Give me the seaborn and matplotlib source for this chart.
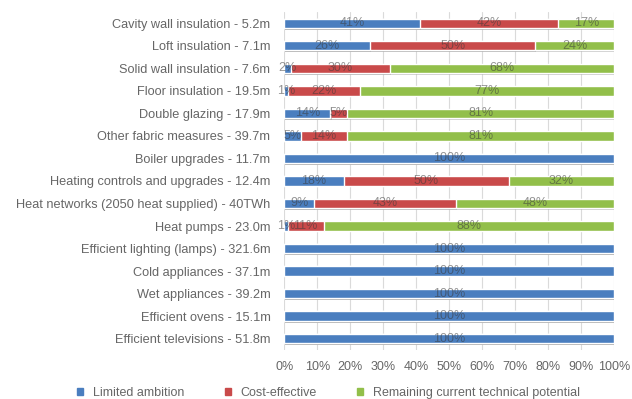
import numpy as np
import pandas as pd
import matplotlib
matplotlib.use("Agg")
import matplotlib.pyplot as plt
import matplotlib.patheffects as pe
import seaborn as sns

# data
measures = [
    "Cavity wall insulation - 5.2m",
    "Loft insulation - 7.1m",
    "Solid wall insulation - 7.6m",
    "Floor insulation - 19.5m",
    "Double glazing - 17.9m",
    "Other fabric measures - 39.7m",
    "Boiler upgrades - 11.7m",
    "Heating controls and upgrades - 12.4m",
    "Heat networks (2050 heat supplied) - 40TWh",
    "Heat pumps - 23.0m",
    "Efficient lighting (lamps) - 321.6m",
    "Cold appliances - 37.1m",
    "Wet appliances - 39.2m",
    "Efficient ovens - 15.1m",
    "Efficient televisions - 51.8m",
]
limited = [41, 26, 2, 1, 14, 5, 100, 18, 9, 1, 100, 100, 100, 100, 100]
cost_eff = [42, 50, 30, 22, 5, 14, 0, 50, 43, 11, 0, 0, 0, 0, 0]
remaining = [17, 24, 68, 77, 81, 81, 0, 32, 48, 88, 0, 0, 0, 0, 0]

series_names = ["Limited ambition", "Cost-effective", "Remaining current technical potential"]
colors = ["#4A7EBF", "#C94A4A", "#92BF4A"]

df = pd.DataFrame({
    "measure": measures,
    "limited": limited,
    "cost": cost_eff,
    "remaining": remaining,
})
df["c1"] = df["limited"] / 100
df["c2"] = (df["limited"] + df["cost"]) / 100
df["c3"] = (df["limited"] + df["cost"] + df["remaining"]) / 100

sns.set_theme(style="white")
plt.rcParams["font.family"] = ["Liberation Sans", "DejaVu Sans"]

fig = plt.figure(figsize=(6.32, 3.99), dpi=100)
ax = fig.add_axes([0.4498, 0.123, 0.5222, 0.847])

shadow = [pe.SimplePatchShadow(offset=(0.8, -1.2), shadow_rgbFace="#9a9a9a", alpha=0.5), pe.Normal()]

# stacked bars drawn as overlapping cumulative totals
for col, c in zip(["c3", "c2", "c1"], colors[::-1]):
    sns.barplot(data=df, x=col, y="measure", color=c, width=0.42,
                orient="h", saturation=1, ax=ax, zorder=3)

for p in ax.patches:
    if p.get_width() > 0:
        p.set_path_effects(shadow)

# value labels
vals = np.array([limited, cost_eff, remaining]) / 100
starts = np.vstack([np.zeros(len(measures)), vals[0], vals[0] + vals[1]])
for i in range(len(measures)):
    for k in range(3):
        if vals[k, i] > 0:
            ax.text(starts[k, i] + vals[k, i] / 2, i, f"{round(vals[k, i]*100)}%",
                    ha="center", va="center", fontsize=9, color="#3a3a3a",
                    alpha=0.55, zorder=5)

ax.set_xlim(0, 1)
ax.set_ylim(len(measures) - 0.5, -0.5)
ax.set_xticks(np.arange(0, 1.01, 0.1))
ax.set_xticklabels([f"{int(t)}%" for t in range(0, 101, 10)])
ax.xaxis.grid(True, color="#DADADA", lw=0.8, zorder=0)
ax.yaxis.grid(False)
ax.set_axisbelow(True)
ax.set_xlabel("")
ax.set_ylabel("")
for s in ax.spines.values():
    s.set_visible(False)
ax.tick_params(axis="y", length=0, pad=10, labelsize=9.2, labelcolor="#666666")
ax.tick_params(axis="x", length=0, pad=8, labelsize=9, labelcolor="#666666")

handles = [plt.Rectangle((0, 0), 1, 1, color=c) for c in colors]
fig.legend(handles, series_names, loc="center", bbox_to_anchor=(0.52, 0.015),
           ncol=3, frameon=False, fontsize=9, labelcolor="#666666",
           handlelength=0.5, handleheight=0.5, handletextpad=0.8, columnspacing=3.2)

fig.savefig("out.png", dpi=100)
